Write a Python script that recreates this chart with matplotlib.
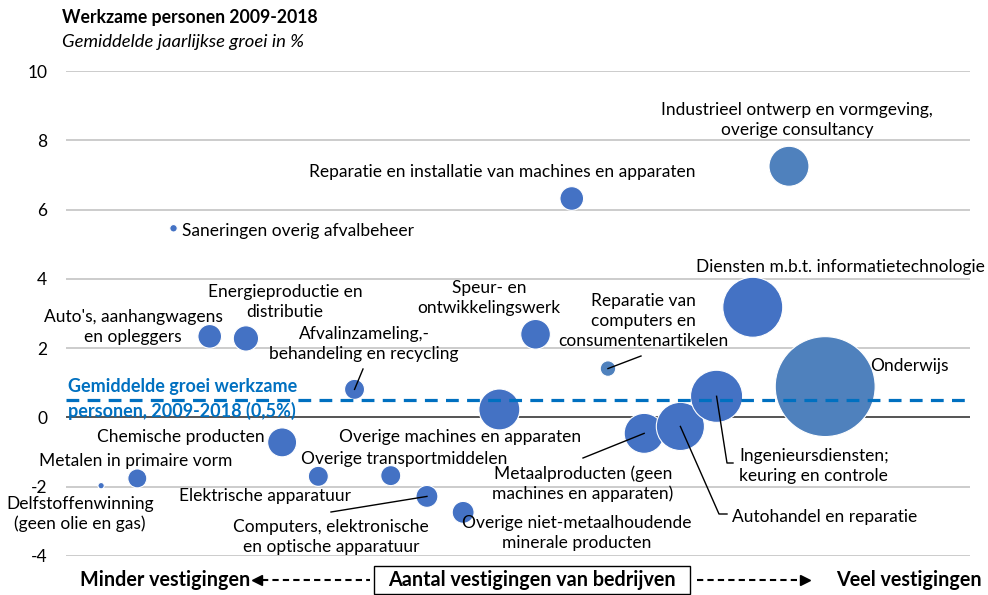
import matplotlib
matplotlib.use('Agg')
import matplotlib.pyplot as plt
import matplotlib.transforms as mtransforms
from matplotlib.lines import Line2D
from matplotlib.patches import Rectangle

plt.rcParams['font.family'] = ['Lato', 'DejaVu Sans']
plt.rcParams['axes.unicode_minus'] = False

# sectoren, gerangschikt naar aantal vestigingen (weinig -> veel)
sectoren = [
    'Delfstoffenwinning (geen olie en gas)',
    'Metalen in primaire vorm',
    'Sanering en overig afvalbeheer',
    "Auto's, aanhangwagens en opleggers",
    'Energieproductie en distributie',
    'Chemische producten',
    'Elektrische apparatuur',
    'Afvalinzameling, -behandeling en recycling',
    'Overige transportmiddelen',
    'Computers, elektronische en optische apparatuur',
    'Overige niet-metaalhoudende minerale producten',
    'Overige machines en apparaten',
    'Speur- en ontwikkelingswerk',
    'Reparatie en installatie van machines en apparaten',
    'Reparatie van computers en consumentenartikelen',
    'Metaalproducten (geen machines en apparaten)',
    'Autohandel en reparatie',
    'Ingenieursdiensten; keuring en controle',
    'Diensten m.b.t. informatietechnologie',
    'Industrieel ontwerp en vormgeving, overige consultancy',
    'Onderwijs',
]
rang = list(range(1, 22))
groei = [-1.97, -1.76, 5.46, 2.34, 2.28, -0.72, -1.70, 0.81, -1.68, -2.28, -2.74,
         0.23, 2.40, 6.32, 1.41, -0.46, -0.26, 0.61, 3.18, 7.25, 0.89]
# omvang (aantal werkzame personen, relatief)
omvang = [1.0, 9, 1.4, 14, 16, 21, 10, 10, 10, 12, 12,
          42, 22, 14, 6, 40, 58, 68, 90, 40, 250]
gemiddelde = 0.5

lichter = {'Reparatie van computers en consumentenartikelen',
           'Industrieel ontwerp en vormgeving, overige consultancy',
           'Onderwijs'}

W, H = 988, 595
fig = plt.figure(figsize=(W / 100, H / 100), dpi=100)
ax = fig.add_axes([66 / W, 1 - 556 / H, (970 - 66) / W, (556 - 71) / H])
px = mtransforms.Affine2D().scale(1 / W, -1 / H).translate(0, 1) + fig.transFigure

ax.set_xlim(0.03, 25)
ax.set_ylim(-4, 10)
ax.set_yticks([-4, -2, 0, 2, 4, 6, 8, 10])
ax.set_xticks([])
for s in ax.spines.values():
    s.set_visible(False)
ax.tick_params(axis='y', length=0, pad=13.5, labelsize=12.5)
for t in [-4, -2, 2, 4, 6, 8, 10]:
    ax.axhline(t, color='#BFBFBF', lw=1.1, zorder=1)
ax.axhline(0, color='#262626', lw=1.1, zorder=1)

kleuren = ['#4F81BD' if s in lichter else '#4472C4' for s in sectoren]
ax.scatter(rang, groei, s=[v * 20.7 for v in omvang], c=kleuren,
           edgecolors='white', linewidths=0.8, zorder=3, clip_on=False)

ax.axhline(gemiddelde, color='#0070C0', lw=2.3, ls=(0, (4, 2.6)), zorder=4)
fig.text(68 / W, 1 - 399 / H, 'Gemiddelde groei werkzame\npersonen, 2009-2018 (0,5%)',
         color='#0070C0', fontsize=13, fontweight='bold', va='center', ha='left',
         linespacing=1.45)

fig.text(62 / W, 1 - 18 / H, 'Werkzame personen 2009-2018', fontsize=12.7,
         fontweight='bold', va='center')
fig.text(62 / W, 1 - 42 / H, 'Gemiddelde jaarlijkse groei in %', fontsize=13.3,
         style='italic', va='center')

# labels (pixelposities)
labels = [
    ('Industrieel ontwerp en vormgeving,\noverige consultancy', 797, 120, 'center'),
    ('Reparatie en installatie van machines en apparaten', 502, 172, 'center'),
    ('Saneringen overig afvalbeheer', 182, 231, 'left'),
    ('Diensten m.b.t. informatietechnologie', 840, 267, 'center'),
    ('Energieproductie en\ndistributie', 285, 302, 'center'),
    ("Auto's, aanhangwagens\nen opleggers", 133, 327, 'center'),
    ('Speur- en\nontwikkelingswerk', 489, 298, 'center'),
    ('Reparatie van\ncomputers en\nconsumentenartikelen', 643, 321, 'center'),
    ('Afvalinzameling,-\nbehandeling en recycling', 364, 344, 'center'),
    ('Onderwijs', 870, 366, 'left'),
    ('Chemische producten', 265, 437, 'right'),
    ('Overige machines en apparaten', 460, 437, 'center'),
    ('Metalen in primaire vorm', 136, 461, 'center'),
    ('Overige transportmiddelen', 404, 459, 'center'),
    ('Delfstoffenwinning\n(geen olie en gas)', 80, 514, 'center'),
    ('Elektrische apparatuur', 265, 496, 'center'),
    ('Computers, elektronische\nen optische apparatuur', 331, 537, 'center'),
    ('Overige niet-metaalhoudende\nminerale producten', 577, 533, 'center'),
    ('Metaalproducten (geen\nmachines en apparaten)', 583, 484, 'center'),
    ('Autohandel en reparatie', 732, 517, 'left'),
    ('Ingenieursdiensten;\nkeuring en controle', 739, 466, 'left'),
]
for tekst, x, y, ha in labels:
    fig.text(x / W, 1 - y / H, tekst, fontsize=12.5, ha=ha, va='center',
             linespacing=1.28, zorder=5)

# verbindingslijnen: (index sector, pixelpunten vanaf bubbel naar label)
leaders = [
    (7, [(363, 369)]),
    (9, [(331, 512)]),
    (14, [(641, 356)]),
    (15, [(583, 458)]),
    (16, [(719, 514), (727, 514)]),
    (17, [(727, 463), (733, 463)]),
]
for i, pts in leaders:
    x0, y0 = px.inverted().transform(ax.transData.transform((rang[i], groei[i])))
    xs = [x0] + [p[0] for p in pts]
    ys = [y0] + [p[1] for p in pts]
    fig.add_artist(Line2D(xs, ys, transform=px, color='black', lw=1, zorder=6))

# x-as omschrijving
fig.text(80 / W, 1 - 580 / H, 'Minder vestigingen', fontsize=14.2, fontweight='bold',
         va='center', ha='left')
fig.text(982 / W, 1 - 580 / H, 'Veel vestigingen', fontsize=14.2, fontweight='bold',
         va='center', ha='right')
fig.add_artist(Rectangle((374, 566), 316, 28, transform=px, fill=False,
                         edgecolor='black', lw=1))
fig.text(532 / W, 1 - 580 / H, 'Aantal vestigingen van bedrijven', fontsize=14.2,
         fontweight='bold', va='center', ha='center')
fig.add_artist(Line2D([262, 370], [580, 580], transform=px, color='black', lw=1.5,
                      ls=(0, (3, 2))))
fig.add_artist(Line2D([257], [580], transform=px, color='black', marker='<',
                      markersize=7, lw=0))
fig.add_artist(Line2D([697, 800], [580, 580], transform=px, color='black', lw=1.5,
                      ls=(0, (3, 2))))
fig.add_artist(Line2D([805], [580], transform=px, color='black', marker='>',
                      markersize=7, lw=0))

fig.savefig('out.png', dpi=100)
